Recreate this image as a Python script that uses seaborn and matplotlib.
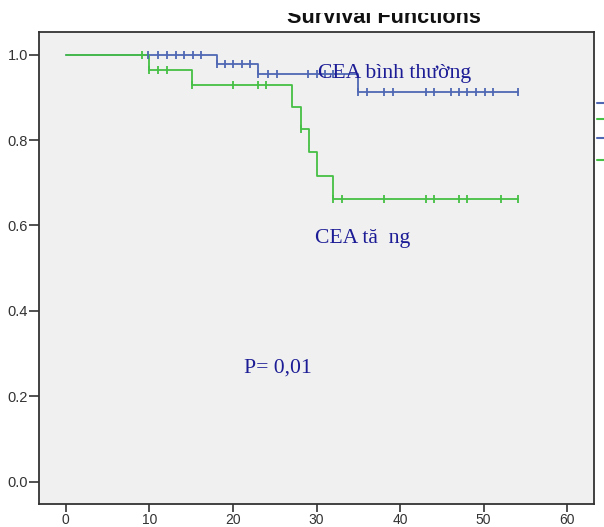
import numpy as np
import pandas as pd
import seaborn as sns
import matplotlib.pyplot as plt
from matplotlib.lines import Line2D
from matplotlib.transforms import Bbox, TransformedBbox

# step points of the Kaplan-Meier curves (time, survival)
normal_times = [0, 18.1, 23.0, 35.0, 54.1]
normal_surv = [1.0, 0.978, 0.954, 0.913, 0.913]
high_times = [0, 10.0, 15.1, 27.1, 28.1, 29.1, 30.0, 32.0, 54.1]
high_surv = [1.0, 0.965, 0.930, 0.878, 0.826, 0.771, 0.716, 0.661, 0.661]

# censored observations
normal_censor = [9.9, 11.0, 12.1, 13.2, 14.1, 15.2, 16.2, 18.1, 19.0, 20.0, 21.1, 22.0,
                 23.0, 24.2, 25.3, 29.0, 30.1, 31.0, 32.0, 35.0, 36.0, 38.1, 39.2,
                 43.1, 44.1, 46.1, 47.1, 48.0, 49.1, 50.1, 51.1, 54.1]
high_censor = [9.1, 10.0, 11.0, 12.1, 15.1, 20.0, 23.0, 24.0, 28.1, 32.0, 33.0,
               38.1, 43.1, 44.1, 47.1, 48.0, 52.1, 54.1]

x_ticks = [0, 10, 20, 30, 40, 50, 60]
y_ticks = [0.0, 0.2, 0.4, 0.6, 0.8, 1.0]

blue = "#5068b4"
green = "#45c045"
navy = "#1c1c96"

sns.set_theme(style="ticks", rc={"axes.facecolor": "#f0f0f0"})
plt.rcParams["font.family"] = ["Liberation Sans", "DejaVu Sans"]


def censor_frame(times, surv, censor):
    idx = np.searchsorted(times, censor, side="right") - 1
    return pd.DataFrame({"time": censor, "surv": np.array(surv)[idx]})


fig = plt.figure(figsize=(6.04, 5.27), dpi=100)
ax = fig.add_axes([39 / 604, 1 - 504 / 527, (594 - 39) / 604, (504 - 32) / 527])

steps_n = pd.DataFrame({"time": normal_times, "surv": normal_surv})
steps_h = pd.DataFrame({"time": high_times, "surv": high_surv})

sns.lineplot(data=steps_n, x="time", y="surv", drawstyle="steps-post", estimator=None,
             color=blue, linewidth=1.3, ax=ax)
sns.scatterplot(data=censor_frame(normal_times, normal_surv, normal_censor), x="time", y="surv",
                marker="|", s=40, linewidth=1.3, color=blue, ax=ax, zorder=3)
sns.lineplot(data=steps_h, x="time", y="surv", drawstyle="steps-post", estimator=None,
             color=green, linewidth=1.3, ax=ax)
sns.scatterplot(data=censor_frame(high_times, high_surv, high_censor), x="time", y="surv",
                marker="|", s=40, linewidth=1.3, color=green, ax=ax, zorder=3)

ax.set_xlim(-3.2, 63.2)
ax.set_ylim(-0.052, 1.053)
ax.set_xticks(x_ticks)
ax.set_yticks(y_ticks)
ax.set_yticklabels([f"{v:.1f}" for v in y_ticks])
ax.set_xlabel("")
ax.set_ylabel("")
ax.tick_params(width=1.2, colors="#333333", labelcolor="#333333")
ax.tick_params(axis="y", length=7, pad=1, labelsize=10.5)
ax.tick_params(axis="x", length=5.5, pad=1, labelsize=10)
for sp in ax.spines.values():
    sp.set_visible(True)
    sp.set_color("#333333")
    sp.set_linewidth(1.3)

ax.text(30.2, 0.945, "CEA bình thường", family="Liberation Serif", fontsize=15.6, color=navy)
ax.text(29.8, 0.559, "CEA tă  ng", family="Liberation Serif", fontsize=15.6, color=navy)
ax.text(21.3, 0.255, "P= 0,01", family="Liberation Serif", fontsize=15.6, color=navy)

# title, cut at the top in the original
t = fig.text(383.5 / 604, 1 - 23 / 527, "Survival Functions", ha="center", va="baseline",
             fontsize=15.6, fontweight="bold", color="#111111")
t.set_clip_box(TransformedBbox(Bbox([[0, 0], [1, 1 - 13 / 527]]), fig.transFigure))
t.set_clip_on(True)

# legend swatches cut off at the right edge
for yy, c in zip([103, 119, 138, 160], [blue, green, blue, green]):
    fig.add_artist(Line2D([597 / 604, 1.0], [1 - yy / 527] * 2, color=c, linewidth=1.5,
                          transform=fig.transFigure))

fig.savefig("out.png", dpi=100)
